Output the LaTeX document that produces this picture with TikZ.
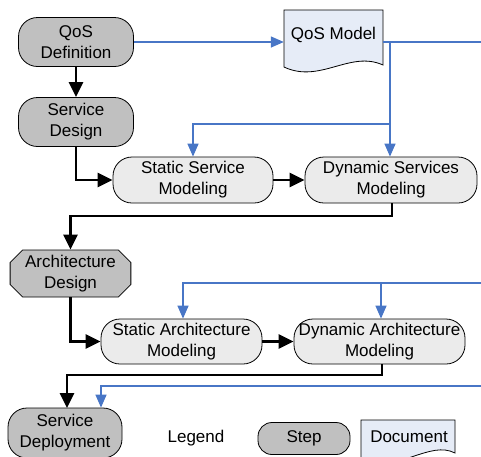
\documentclass[tikz,border=0pt]{standalone}
\usepackage{fontspec}
\setmainfont{Liberation Sans}
\usetikzlibrary{arrows.meta,shapes.misc}
\definecolor{stepdark}{RGB}{192,192,192}
\definecolor{steplight}{RGB}{235,235,235}
\definecolor{docfill}{RGB}{230,236,247}
\definecolor{qblue}{RGB}{72,118,198}
\tikzset{
  txt/.style={font=\fontsize{17}{21}\selectfont, align=center, inner sep=0pt},
  stepbox/.style={txt, draw=black, line width=0.8pt, rounded corners=19pt},
  darkstep/.style={stepbox, fill=stepdark},
  lightstep/.style={stepbox, fill=steplight},
  docshape/.style={draw=black, line width=0.8pt, fill=docfill},
  flow/.style={line width=2.6pt, -{Triangle[length=15pt,width=14pt]}},
  qos/.style={draw=qblue, line width=1.4pt, -{Triangle[length=13pt,width=11pt]}},
  qosline/.style={draw=qblue, line width=1.4pt},
}
\begin{document}
\begin{tikzpicture}[x=1pt,y=-1pt]
\useasboundingbox (0,0) rectangle (481,456);
\clip (0,0) rectangle (481,456);
% document shapes
\draw[docshape] (284,10) -- (383,10) -- (383,65) .. controls (350,50) and (320,84) .. (284,67) -- cycle;
\node[txt, minimum width=99pt, minimum height=48pt] (QoSModel) at (333.5,35) {QoS Model};
\draw[docshape] (361,420) -- (455,420) -- (455,453) .. controls (430,440) and (400,472) .. (361,462) -- cycle;
\node[txt] (LegDoc) at (409,437) {Document};
% steps
\node[darkstep, minimum width=115pt, minimum height=49pt] (QoSDef) at (76,42) {QoS\\Definition};
\node[darkstep, minimum width=115pt, minimum height=49pt] (SD) at (76,122) {Service\\Design};
\node[lightstep, minimum width=160pt, minimum height=46pt] (SSM) at (193,180) {Static Service\\Modeling};
\node[lightstep, minimum width=172pt, minimum height=46pt] (DSM) at (391,180) {Dynamic Services\\Modeling};
\node[txt, draw=black, line width=0.8pt, fill=stepdark, chamfered rectangle, chamfered rectangle xsep=9pt, minimum width=115pt, minimum height=47pt, inner xsep=6pt] (AD) at (70.5,273.5) {Architecture\\Design};
\node[lightstep, minimum width=161pt, minimum height=45pt] (SAM) at (181.5,341.5) {Static Architecture\\Modeling};
\node[lightstep, minimum width=171pt, minimum height=45pt] (DAM) at (379.5,341.5) {Dynamic Architecture\\Modeling};
\node[darkstep, minimum width=114pt, minimum height=50pt] (SDep) at (65,433) {Service\\Deployment};
\node[txt] (Legend) at (196,438) {Legend};
\node[darkstep, minimum width=92pt, minimum height=32pt, rounded corners=14pt] (LegStep) at (304,438.5) {Step};
% blue QoS model connectors
\coordinate (QR) at (481,42);
\coordinate (B1) at (390,42);
\coordinate (B2) at (390,124);
\coordinate (B3) at (193,124);
\draw[qos] (QoSDef.east) -- (QoSDef.east -| QoSModel.west);
\draw[qosline] (B1 -| QoSModel.east) -- (QR);
\draw[qos] (B1) -- (B1 |- DSM.north);
\draw[qos] (B2) -- (B3) -- (B3 |- SSM.north);
\coordinate (C0) at (481,283);
\coordinate (C1) at (183,283);
\coordinate (C2) at (381,283);
\draw[qos] (C0) -- (C1) -- (C1 |- SAM.north);
\draw[qos] (C2) -- (C2 |- DAM.north);
\coordinate (D0) at (481,386);
\coordinate (D1) at (101,386);
\draw[qos] (D0) -- (D1) -- (D1 |- SDep.north);
% black flow
\draw[flow] (QoSDef.south) -- (SD.north);
\draw[flow] (SD.south) |- (SSM.west);
\draw[flow] (SSM.east) -- (DSM.west);
\coordinate (E1) at (392,216);
\draw[flow] (E1 |- DSM.south) -- (E1) -- (E1 -| AD.north) -- (AD.north);
\draw[flow] (AD.south) |- (SAM.west);
\draw[flow] (SAM.east) -- (DAM.west);
\coordinate (F1) at (382,375);
\draw[flow] (F1 |- DAM.south) -- (F1) -- (67,375) -- (67,408);
\end{tikzpicture}
\end{document}
